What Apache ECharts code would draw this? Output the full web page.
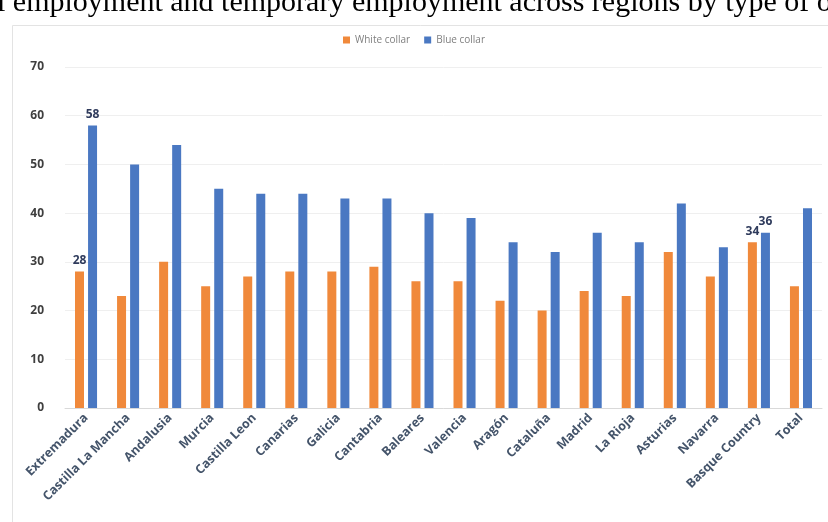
<!DOCTYPE html>
<html lang="en">
<head>
  <meta charset="utf-8">
  <title>White collar vs blue collar</title>
  <script src="https://cdn.jsdelivr.net/npm/echarts@6/dist/echarts.min.js"></script>
  <style>
    html, body { margin: 0; padding: 0; background: #fff; }
    #chart1 { width: 828px; height: 522px; }
  </style>
</head>
<body>
<div id="chart1"></div>
<script>
  var regions = ['Extremadura', 'Castilla La Mancha', 'Andalusia', 'Murcia', 'Castilla Leon',
    'Canarias', 'Galicia', 'Cantabria', 'Baleares', 'Valencia', 'Aragón', 'Cataluña',
    'Madrid', 'La Rioja', 'Asturias', 'Navarra', 'Basque Country', 'Total'];
  var whiteCollar = [28, 23, 30, 25, 27, 28, 28, 29, 26, 26, 22, 20, 24, 23, 32, 27, 34, 25];
  var blueCollar = [58, 50, 54, 45, 44, 44, 43, 43, 40, 39, 34, 32, 36, 34, 42, 33, 36, 41];
  // only these bars carry a value label in the original
  var labelled = ['Extremadura', 'Basque Country'];

  var chart1 = echarts.init(document.getElementById('chart1'));

  function withLabels(values) {
    return values.map(function (v, i) {
      return {
        value: v,
        label: { show: labelled.indexOf(regions[i]) >= 0 }
      };
    });
  }

  var barLabel = {
    position: 'top',
    color: '#2f3b5c',
    fontWeight: 'bold',
    fontSize: 12,
    fontFamily: 'Open Sans'
  };

  var option = {
    animation: false,
    textStyle: { fontFamily: 'Open Sans' },
    graphic: [
      {
        type: 'rect',
        shape: { x: 12.5, y: 25.5, width: 830, height: 510 },
        style: { fill: 'none', stroke: '#e3e3e3', lineWidth: 1 }
      },
      {
        type: 'text',
        left: -3,
        top: -12,
        style: {
          text: 'l employment and temporary employment across regions by type of o',
          font: '30px "Liberation Serif"',
          fill: '#000'
        }
      }
    ],
    legend: {
      top: 30,
      left: 'center',
      itemWidth: 7,
      itemHeight: 7,
      itemGap: 14,
      icon: 'rect',
      textStyle: { color: '#7f7f7f', fontSize: 10 },
      data: ['White collar', 'Blue collar']
    },
    grid: { left: 65, right: 6, top: 67, bottom: 114 },
    xAxis: {
      type: 'category',
      data: regions,
      axisTick: { show: false },
      axisLine: { lineStyle: { color: '#d9d9d9' } },
      axisLabel: {
        rotate: 45,
        interval: 0,
        color: '#44546a',
        fontSize: 12.5,
        fontWeight: 'bold',
        margin: 8
      }
    },
    yAxis: {
      type: 'value',
      min: 0,
      max: 70,
      interval: 10,
      axisLine: { show: false },
      axisTick: { show: false },
      axisLabel: { color: '#3f3f3f', fontSize: 12, fontWeight: 'bold', margin: 21 },
      splitLine: { lineStyle: { color: '#efefef' } }
    },
    series: [
      {
        name: 'White collar',
        type: 'bar',
        barWidth: 9,
        barGap: '45%',
        itemStyle: { color: '#f0893b' },
        label: barLabel,
        data: withLabels(whiteCollar)
      },
      {
        name: 'Blue collar',
        type: 'bar',
        barWidth: 9,
        itemStyle: { color: '#4a78c2' },
        label: barLabel,
        data: withLabels(blueCollar)
      }
    ]
  };
  chart1.setOption(option);
</script>
</body>
</html>
